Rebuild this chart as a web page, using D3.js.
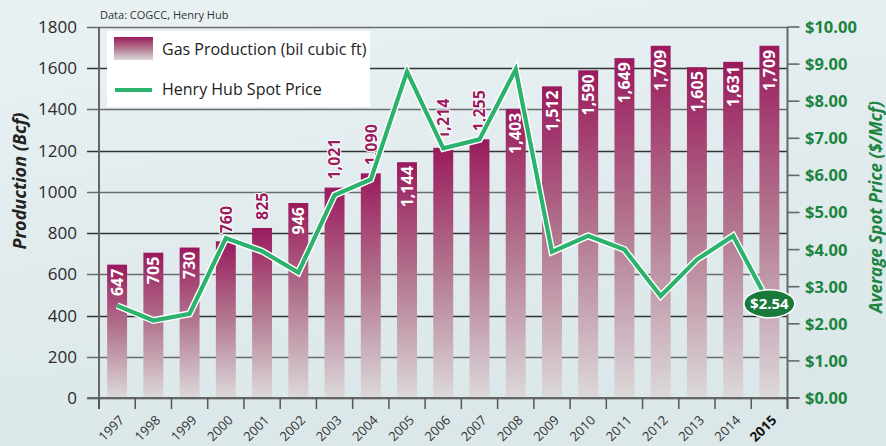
<!DOCTYPE html>
<html>
<head>
<meta charset="utf-8">
<script src="https://cdn.jsdelivr.net/npm/d3@7/dist/d3.min.js"></script>
<style>
  body { margin: 0; background: #e3ecee; }
  svg text { font-family: "Open Sans", "Noto Sans", sans-serif; }
</style>
</head>
<body>
<div id="vis"></div>
<script>
// data
var years = ["1997","1998","1999","2000","2001","2002","2003","2004","2005","2006",
             "2007","2008","2009","2010","2011","2012","2013","2014","2015"];
var production = [647,705,730,760,825,946,1021,1090,1144,1214,1255,1403,1512,1590,1649,1709,1605,1631,1709];
var price = [2.49,2.09,2.27,4.31,3.96,3.38,5.47,5.89,8.80,6.73,6.97,8.86,3.94,4.37,4.00,2.75,3.73,4.37,2.54];
// bars whose label sits above the bar instead of inside it
var labelsAbove = ["2000","2001","2003","2004","2006","2007"];
var leftTicks = [0,200,400,600,800,1000,1200,1400,1600,1800];
var rightTicks = [0,1,2,3,4,5,6,7,8,9,10];

var W = 886, H = 446;
var margin = {top: 27, right: 99, bottom: 48, left: 99};

var svg = d3.select("#vis").append("svg")
    .attr("width", W)
    .attr("height", H);

var defs = svg.append("defs");

var bg = defs.append("linearGradient").attr("id", "bg")
    .attr("x1", 0).attr("y1", 0).attr("x2", 0.3).attr("y2", 1);
bg.append("stop").attr("offset", "0%").attr("stop-color", "#e9f1f3");
bg.append("stop").attr("offset", "100%").attr("stop-color", "#dbe7e9");

var barGrad = defs.append("linearGradient").attr("id", "barGrad")
    .attr("x1", 0).attr("y1", 0).attr("x2", 0).attr("y2", 1);
barGrad.append("stop").attr("offset", "0%").attr("stop-color", "#9a1a5d");
barGrad.append("stop").attr("offset", "50%").attr("stop-color", "#b37890");
barGrad.append("stop").attr("offset", "100%").attr("stop-color", "#dcd9da");

svg.append("rect").attr("width", W).attr("height", H).attr("fill", "url(#bg)");

var x = d3.scaleBand()
    .domain(years)
    .range([margin.left, 787.5])
    .paddingInner(0.45)
    .paddingOuter(0.225);

var yL = d3.scaleLinear().domain([0, 1800]).range([398, margin.top]);
var yR = d3.scaleLinear().domain([0, 10]).range([398, margin.top]);

var x0 = margin.left, x1 = 787.5;

// gridlines
svg.append("g")
  .selectAll("line")
  .data(leftTicks)
  .enter().append("line")
    .attr("x1", x0 - 12)
    .attr("x2", x1)
    .attr("y1", function(d) { return Math.round(yL(d)) + 0.5; })
    .attr("y2", function(d) { return Math.round(yL(d)) + 0.5; })
    .attr("stroke", function(d) { return d % 400 == 0 ? "#333" : "#6b6b6b"; })
    .attr("stroke-width", 1.3);

// bars
svg.append("g")
  .selectAll("rect")
  .data(years)
  .enter().append("rect")
    .attr("x", function(d) { return x(d); })
    .attr("y", function(d, i) { return yL(production[i]); })
    .attr("width", x.bandwidth())
    .attr("height", function(d, i) { return yL(0) - yL(production[i]); })
    .attr("fill", "url(#barGrad)");

// axes lines
svg.append("line").attr("x1", x0).attr("x2", x0).attr("y1", yL(1800)).attr("y2", 409)
    .attr("stroke", "#666").attr("stroke-width", 2);
svg.append("line").attr("x1", x1).attr("x2", x1).attr("y1", yL(1800)).attr("y2", 409)
    .attr("stroke", "#666").attr("stroke-width", 2);
svg.append("line").attr("x1", x0 - 12).attr("x2", x1 + 12).attr("y1", yL(0)).attr("y2", yL(0))
    .attr("stroke", "#666").attr("stroke-width", 2);

// left axis labels
svg.append("g")
  .selectAll("text")
  .data(leftTicks)
  .enter().append("text")
    .attr("x", 77)
    .attr("y", function(d) { return yL(d); })
    .attr("dy", "0.35em")
    .attr("text-anchor", "end")
    .attr("font-size", 17)
    .attr("fill", "#2a2a2a")
    .text(function(d) { return d; });

// right axis ticks + labels
var rg = svg.append("g");
rg.selectAll("line")
  .data(rightTicks)
  .enter().append("line")
    .attr("x1", x1)
    .attr("x2", x1 + 12)
    .attr("y1", function(d) { return yR(d); })
    .attr("y2", function(d) { return yR(d); })
    .attr("stroke", "#666")
    .attr("stroke-width", 1.6);
rg.selectAll("text")
  .data(rightTicks)
  .enter().append("text")
    .attr("x", 805)
    .attr("y", function(d) { return yR(d); })
    .attr("dy", "0.36em")
    .attr("font-size", 16.5)
    .attr("font-weight", "bold")
    .attr("fill", "#1b8440")
    .text(function(d) { return "$" + d.toFixed(2); });

// x ticks at band boundaries
var bounds = years.map(function(d) { return x(d) - x.step() * x.paddingInner() / 2; });
bounds.push(x1);
svg.append("g")
  .selectAll("line")
  .data(bounds)
  .enter().append("line")
    .attr("x1", function(d) { return d; })
    .attr("x2", function(d) { return d; })
    .attr("y1", yL(0))
    .attr("y2", 409)
    .attr("stroke", "#555")
    .attr("stroke-width", 1.5);

// x labels
svg.append("g")
  .selectAll("text")
  .data(years)
  .enter().append("text")
    .attr("transform", function(d) {
      return "translate(" + (x(d) + x.bandwidth() / 2 + 8) + ",421) rotate(-45)";
    })
    .attr("text-anchor", "end")
    .attr("font-size", d => d == "2015" ? 13.5 : 13)
    .attr("font-weight", d => d == "2015" ? "bold" : "normal")
    .attr("fill", d => d == "2015" ? "#111" : "#333")
    .text(function(d) { return d; });

// bar value labels
var fmt = d3.format(",");
svg.append("g")
  .selectAll("text")
  .data(years)
  .enter().append("text")
    .attr("transform", function(d, i) {
      var above = labelsAbove.indexOf(d) >= 0;
      var yy = above ? yL(production[i]) - 8 : yL(production[i]) + 4;
      return "translate(" + (x(d) + x.bandwidth() / 2) + "," + yy + ") rotate(-90)";
    })
    .attr("dy", "0.36em")
    .attr("text-anchor", d => labelsAbove.indexOf(d) >= 0 ? "start" : "end")
    .attr("font-size", 16)
    .attr("font-weight", "bold")
    .attr("fill", d => labelsAbove.indexOf(d) >= 0 ? "#9a1a5d" : "#fff")
    .attr("stroke", d => labelsAbove.indexOf(d) >= 0 ? "#fff" : "none")
    .attr("stroke-width", 2)
    .attr("paint-order", "stroke")
    .text(function(d, i) { return fmt(production[i]); });

// price line
var line = d3.line()
    .x(function(d, i) { return x(years[i]) + x.bandwidth() / 2; })
    .y(function(d) { return yR(d); });

svg.append("path")
    .attr("d", line(price))
    .attr("fill", "none")
    .attr("stroke", "#fff")
    .attr("stroke-width", 7)
    .attr("stroke-linejoin", "miter");
svg.append("path")
    .attr("d", line(price))
    .attr("fill", "none")
    .attr("stroke", "#2bb26c")
    .attr("stroke-width", 4.2)
    .attr("stroke-linejoin", "miter");

// last price bubble
var lastX = x(years[years.length - 1]) + x.bandwidth() / 2;
var lastY = yR(price[price.length - 1]);
svg.append("ellipse")
    .attr("cx", lastX).attr("cy", lastY)
    .attr("rx", 25.5).attr("ry", 14)
    .attr("fill", "#1a7a3b")
    .attr("stroke", "#fff")
    .attr("stroke-width", 1.5);
svg.append("text")
    .attr("x", lastX).attr("y", lastY)
    .attr("dy", "0.36em")
    .attr("text-anchor", "middle")
    .attr("font-size", 15)
    .attr("font-weight", "bold")
    .attr("fill", "#fff")
    .text("$" + price[price.length - 1].toFixed(2));

// axis titles
svg.append("text")
    .attr("transform", "translate(20,181) rotate(-90)")
    .attr("dy", "0.35em")
    .attr("text-anchor", "middle")
    .attr("font-size", 18)
    .attr("font-weight", "bold")
    .attr("font-style", "italic")
    .attr("fill", "#222")
    .text("Production (Bcf)");

svg.append("text")
    .attr("transform", "translate(876,207) rotate(-90)")
    .attr("dy", "0.35em")
    .attr("text-anchor", "middle")
    .attr("font-size", 17)
    .attr("font-weight", "bold")
    .attr("font-style", "italic")
    .attr("fill", "#1b8440")
    .text("Average Spot Price ($/Mcf)");

svg.append("text")
    .attr("x", 100).attr("y", 19)
    .attr("font-size", 11)
    .attr("fill", "#333")
    .text("Data: COGCC, Henry Hub");

// legend
var lg = svg.append("g");
lg.append("rect").attr("x", 107).attr("y", 31).attr("width", 263).attr("height", 76).attr("fill", "#fff");
lg.append("rect").attr("x", 114).attr("y", 37).attr("width", 39).attr("height", 23).attr("fill", "url(#barGrad)");
lg.append("text").attr("x", 162).attr("y", 55).attr("font-size", 16).attr("fill", "#222")
    .text("Gas Production (bil cubic ft)");
lg.append("line").attr("x1", 115).attr("x2", 152).attr("y1", 90).attr("y2", 90)
    .attr("stroke", "#2bb26c").attr("stroke-width", 4);
lg.append("text").attr("x", 162).attr("y", 95).attr("font-size", 16).attr("fill", "#222")
    .text("Henry Hub Spot Price");
</script>
</body>
</html>
